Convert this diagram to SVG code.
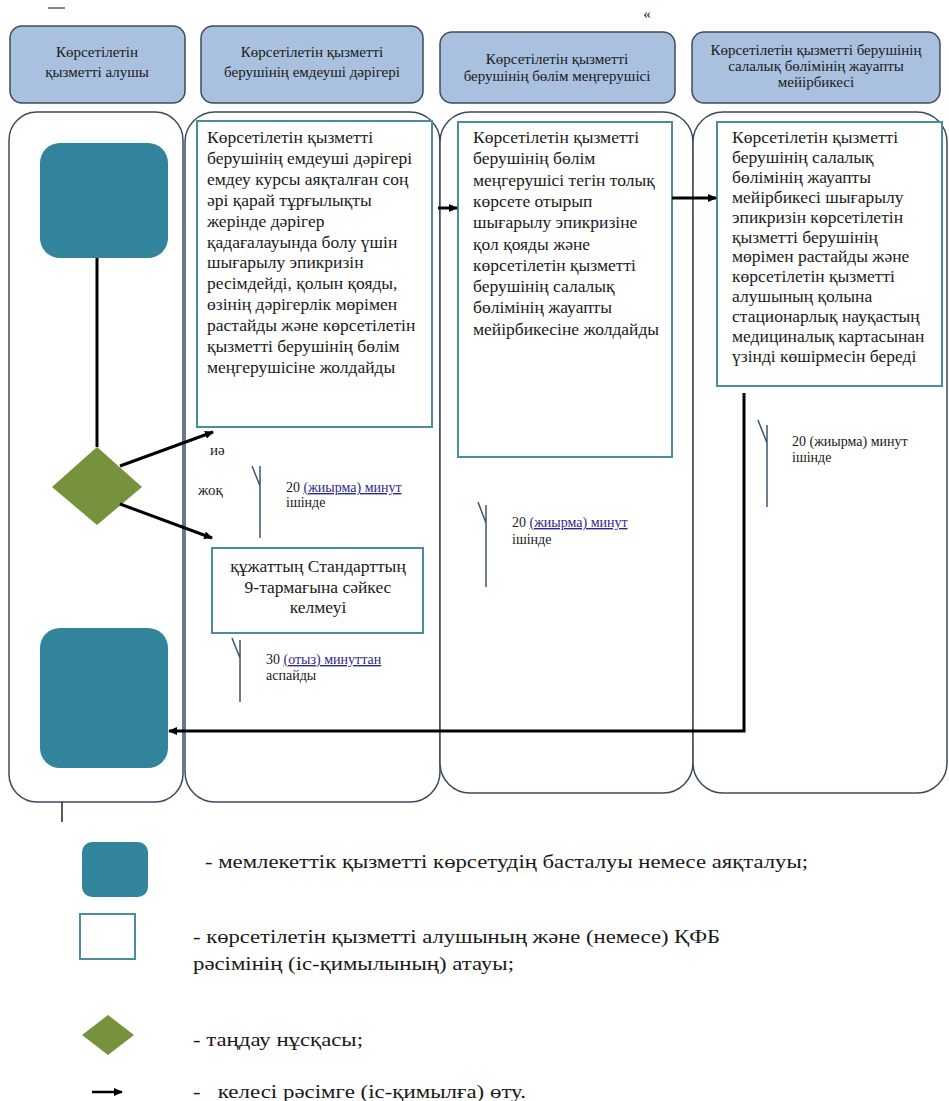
<svg xmlns="http://www.w3.org/2000/svg" width="949" height="1101" viewBox="0 0 949 1101">
<style>
text{font-family:"Liberation Serif","Times New Roman","DejaVu Serif","Noto Serif",serif}
.hdr{fill:#a9c0de;stroke:#3d4b5c;stroke-width:1.5}
.hdrt{font-size:15px;fill:#1a1a1a;text-anchor:middle}
.lane{fill:#ffffff;stroke:#3d4a5c;stroke-width:1.5}
.tbox{fill:#ffffff;stroke:#4b8d9c;stroke-width:2}
.body{font-size:17.5px;fill:#1a1a1a}
.teal{fill:#31849b}
.dia{fill:#76923c}
.conn{stroke:#000;stroke-width:3;fill:none}
.brk{stroke:#3e5570;stroke-width:1.5;fill:none}
.tm{font-size:14px;fill:#1a1a1a}
.tmb{fill:#2a2a8c;text-decoration:underline}
.lg{font-size:19px;fill:#1a1a1a}
.lbl{font-size:15px;fill:#1a1a1a}
</style>
<defs>
<marker id="ah" markerWidth="10" markerHeight="10" refX="8" refY="5" orient="auto" markerUnits="userSpaceOnUse">
<path d="M0,1 L9,5 L0,9 Z" fill="#000"/>
</marker>
</defs>
<rect width="949" height="1101" fill="#ffffff"/>
<line x1="48" y1="8" x2="65" y2="8" stroke="#333" stroke-width="1.2"/>
<text x="647" y="19" class="hdrt">«</text>

<g id="header1"><rect class="hdr" x="10" y="26" width="175" height="77" rx="12"/>
<text class="hdrt" x="97" y="57">Көрсетілетін</text><text class="hdrt" x="97" y="77">қызметті алушы</text></g>
<g id="header2"><rect class="hdr" x="201" y="26" width="222" height="77" rx="12"/>
<text class="hdrt" x="312" y="57">Көрсетілетін қызметті</text><text class="hdrt" x="312" y="77">берушінің емдеуші дәрігері</text></g>
<g id="header3"><rect class="hdr" x="440" y="32" width="235" height="71" rx="12"/>
<text class="hdrt" x="557" y="64">Көрсетілетін қызметті</text><text class="hdrt" x="557" y="81">берушінің бөлім меңгерушісі</text></g>
<g id="header4"><rect class="hdr" x="692" y="32" width="248" height="71" rx="12"/>
<text class="hdrt" x="816" y="55">Көрсетілетін қызметті берушінің</text><text class="hdrt" x="816" y="71">салалық бөлімінің жауапты</text><text class="hdrt" x="816" y="87">мейірбикесі</text></g>

<g id="lane1"><rect class="lane" x="9" y="112" width="174" height="690" rx="28"/></g>
<g id="lane2"><rect class="lane" x="185" y="112" width="255" height="690" rx="30"/></g>
<g id="lane3"><rect class="lane" x="440" y="112" width="253" height="681" rx="30"/></g>
<g id="lane4"><rect class="lane" x="693" y="112" width="254" height="681" rx="30"/></g>

<g id="start"><rect class="teal" x="40" y="143" width="128" height="115" rx="20"/></g>
<g id="end"><rect class="teal" x="40" y="628" width="128" height="140" rx="20"/></g>
<g id="decision"><polygon class="dia" points="97,447 142,487 97,525 52,487"/></g>

<g id="stepA"><rect class="tbox" x="197" y="121" width="235" height="306"/>
<text class="body"><tspan x="207" y="143">Көрсетілетін қызметті</tspan><tspan x="207" dy="20.9">берушінің емдеуші дәрігері</tspan><tspan x="207" dy="20.9">емдеу курсы аяқталған соң</tspan><tspan x="207" dy="20.9">әрі қарай тұрғылықты</tspan><tspan x="207" dy="20.9">жерінде дәрігер</tspan><tspan x="207" dy="20.9">қадағалауында болу үшін</tspan><tspan x="207" dy="20.9">шығарылу эпикризін</tspan><tspan x="207" dy="20.9">ресімдейді, қолын қояды,</tspan><tspan x="207" dy="20.9">өзінің дәрігерлік мөрімен</tspan><tspan x="207" dy="20.9">растайды және көрсетілетін</tspan><tspan x="207" dy="20.9">қызметті берушінің бөлім</tspan><tspan x="207" dy="20.9">меңгерушісіне жолдайды</tspan></text></g>

<g id="stepB"><rect class="tbox" x="458" y="122" width="214" height="335"/>
<text class="body"><tspan x="473" y="143">Көрсетілетін қызметті</tspan><tspan x="473" dy="21.3">берушінің бөлім</tspan><tspan x="473" dy="21.3">меңгерушісі тегін толық</tspan><tspan x="473" dy="21.3">көрсете отырып</tspan><tspan x="473" dy="21.3">шығарылу эпикризіне</tspan><tspan x="473" dy="21.3">қол қояды және</tspan><tspan x="473" dy="21.3">көрсетілетін қызметті</tspan><tspan x="473" dy="21.3">берушінің салалық</tspan><tspan x="473" dy="21.3">бөлімінің жауапты</tspan><tspan x="473" dy="21.3">мейірбикесіне жолдайды</tspan></text></g>

<g id="stepC"><rect class="tbox" x="717" y="122" width="225" height="264"/>
<text class="body"><tspan x="732" y="143">Көрсетілетін қызметті</tspan><tspan x="732" dy="19.9">берушінің салалық</tspan><tspan x="732" dy="19.9">бөлімінің жауапты</tspan><tspan x="732" dy="19.9">мейірбикесі шығарылу</tspan><tspan x="732" dy="19.9">эпикризін көрсетілетін</tspan><tspan x="732" dy="19.9">қызметті берушінің</tspan><tspan x="732" dy="19.9">мөрімен растайды және</tspan><tspan x="732" dy="19.9">көрсетілетін қызметті</tspan><tspan x="732" dy="19.9">алушының қолына</tspan><tspan x="732" dy="19.9">стационарлық науқастың</tspan><tspan x="732" dy="19.9">медициналық картасынан</tspan><tspan x="732" dy="19.9">үзінді көшірмесін береді</tspan></text></g>

<g id="reject"><rect class="tbox" x="212" y="548" width="211" height="85"/>
<text class="body" text-anchor="middle"><tspan x="318" y="572">құжаттың Стандарттың</tspan><tspan x="318" dy="20.5">9-тармағына сәйкес</tspan><tspan x="318" dy="20.5">келмеуі</tspan></text></g>

<g id="connectors">
<line class="conn" x1="97" y1="258" x2="97" y2="447" stroke-width="2.5"/>
<line class="conn" x1="120" y1="466" x2="213" y2="432" marker-end="url(#ah)"/>
<line class="conn" x1="120" y1="504" x2="212" y2="538" marker-end="url(#ah)"/>
<line class="conn" x1="438" y1="208" x2="457" y2="208" stroke-width="2.5" marker-end="url(#ah)"/>
<line class="conn" x1="672" y1="198" x2="716" y2="198" marker-end="url(#ah)"/>
<path class="conn" d="M744,393 V731 H169" marker-end="url(#ah)"/>
</g>

<text class="lbl" x="210" y="455">иә</text>
<text class="lbl" x="198" y="495">жоқ</text>

<g id="timing1"><path class="brk" d="M252,466 L260,486 M260,466 V538"/>
<text class="tm" x="286" y="492">20 <tspan class="tmb">(жиырма) минут</tspan></text><text class="tm" x="286" y="507">ішінде</text></g>
<g id="timing2"><path class="brk" d="M478,502 L486,523 M486,505 V587"/>
<text class="tm" x="512" y="527">20 <tspan class="tmb">(жиырма) минут</tspan></text><text class="tm" x="512" y="544">ішінде</text></g>
<g id="timing3"><path class="brk" d="M758,420 L767,443 M767,425 V507"/>
<text class="tm" x="792" y="446">20 (жиырма) минут</text><text class="tm" x="792" y="462">ішінде</text></g>
<g id="timing4"><path class="brk" d="M232,638 L240,658 M240,640 V702"/>
<text class="tm" x="266" y="664">30 <tspan class="tmb">(отыз) минуттан</tspan></text><text class="tm" x="266" y="680">аспайды</text></g>

<line x1="62" y1="802" x2="62" y2="822" stroke="#222" stroke-width="1.5"/>

<g id="legend">
<rect class="teal" x="82" y="842" width="66" height="55" rx="10"/>
<text class="lg" x="205" y="868" textLength="603" lengthAdjust="spacingAndGlyphs">- мемлекеттік қызметті көрсетудің басталуы немесе аяқталуы;</text>
<rect x="80" y="914" width="55" height="45" fill="#fff" stroke="#4b8d9c" stroke-width="2"/>
<text class="lg" x="193" y="943" textLength="527" lengthAdjust="spacingAndGlyphs">- көрсетілетін қызметті алушының және (немесе) ҚФБ</text>
<text class="lg" x="193" y="970" textLength="321" lengthAdjust="spacingAndGlyphs">рәсімінің (іс-қимылының) атауы;</text>
<polygon class="dia" points="108,1015 134,1035 108,1055 82,1035"/>
<text class="lg" x="193" y="1046" textLength="170" lengthAdjust="spacingAndGlyphs">- таңдау нұсқасы;</text>
<line x1="92" y1="1092" x2="122" y2="1092" stroke="#000" stroke-width="2.5" marker-end="url(#ah)"/>
<text class="lg" x="193" y="1098" xml:space="preserve" textLength="333" lengthAdjust="spacingAndGlyphs">-   келесі рәсімге (іс-қимылға) өту.</text>
</g>
</svg>
